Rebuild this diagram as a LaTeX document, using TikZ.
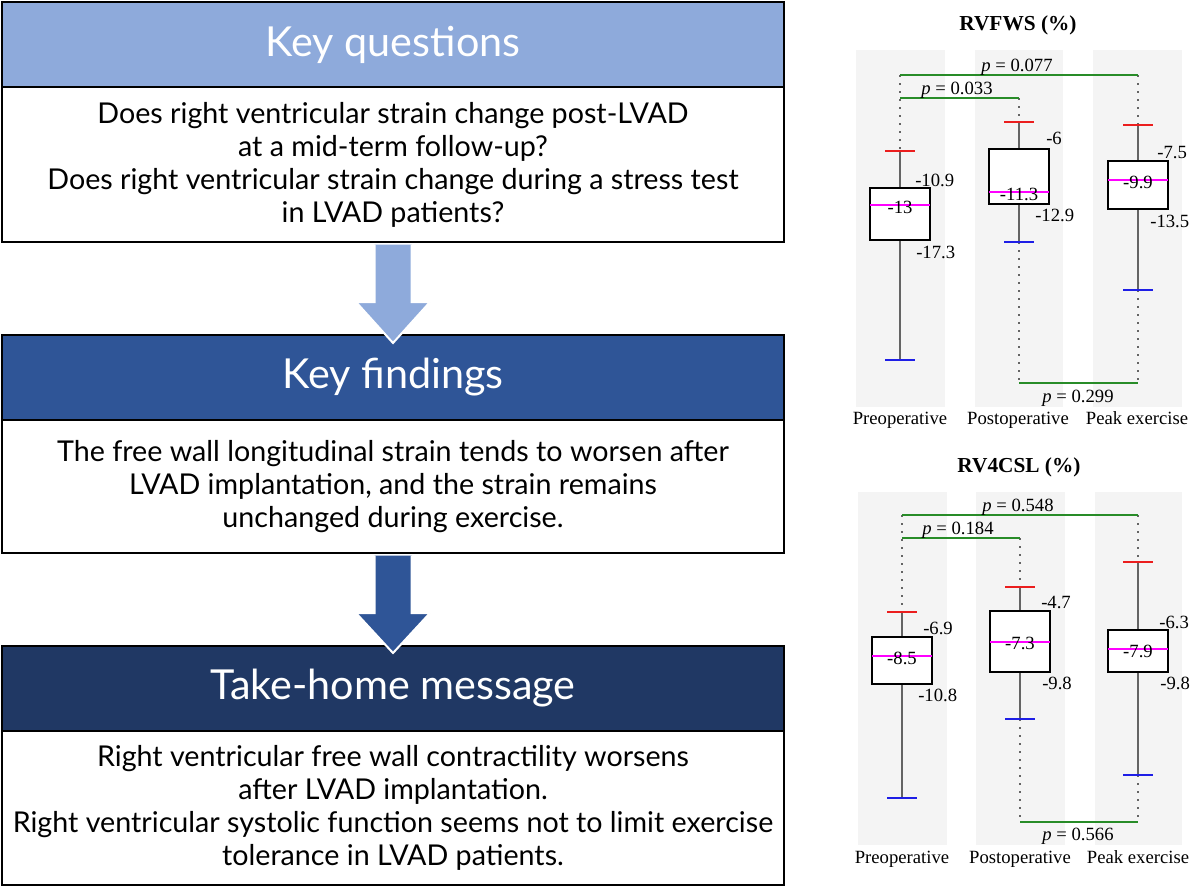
\documentclass[tikz,border=0pt]{standalone}
\usepackage{fontspec}
\setmainfont{Liberation Serif}
\newfontfamily\gill{Lato}
\usetikzlibrary{calc}
\definecolor{hdA}{RGB}{142,170,219}
\definecolor{hdB}{RGB}{47,85,151}
\definecolor{hdC}{RGB}{32,56,100}
\definecolor{colbg}{RGB}{244,244,244}
\definecolor{pgreen}{RGB}{40,140,40}
\definecolor{capred}{RGB}{235,30,30}
\definecolor{capblue}{RGB}{30,30,230}
\definecolor{medmag}{RGB}{255,0,255}
\definecolor{whiskgray}{RGB}{100,100,100}
\newcommand{\bxplot}[6]{%
  \draw[whisk] (#1,#2) -- (#1,#3);
  \draw[whisk] (#1,#5) -- (#1,#6);
  \draw[capr] (#1-15,#2) -- (#1+15,#2);
  \draw[capb] (#1-15,#6) -- (#1+15,#6);
  \draw[boxs] (#1-30,#3) rectangle (#1+30,#5);
  \draw[med] (#1-30,#4) -- (#1+30,#4);
}
\begin{document}
\begin{tikzpicture}[x=0.75pt,y=-0.75pt,
  header/.style={draw=black, line width=1.5pt, minimum width=782*0.75pt, inner sep=0pt, anchor=north west, text=white, font=\gill\fontsize{31}{34}\selectfont},
  body/.style={draw=black, line width=1.5pt, minimum width=782*0.75pt, inner sep=0pt, anchor=north west, align=center, fill=white, font=\gill\fontsize{21.5}{24.75}\selectfont},
  bigarrow/.style={draw=white, line width=1.5pt, line join=miter},
  whisk/.style={whiskgray, line width=0.9pt},
  capr/.style={capred, line width=1.5pt},
  capb/.style={capblue, line width=1.5pt},
  boxs/.style={black, line width=1.5pt, fill=white},
  med/.style={medmag, line width=1.2pt},
  dots/.style={whiskgray, line width=1.3pt, dash pattern=on 1.3pt off 4.7pt},
  pline/.style={pgreen, line width=1.5pt},
  colband/.style={fill=colbg, draw=none},
  num/.style={inner sep=0pt, font=\fontsize{14}{16}\selectfont, text depth=0pt},
  ptxt/.style={inner sep=0pt, font=\fontsize{14}{16}\selectfont, text depth=0pt},
  ctitle/.style={inner sep=0pt, font=\bfseries\fontsize{16}{18}\selectfont},
]
\useasboundingbox (0,0) rectangle (1191,886);
\fill[white] (0,0) rectangle (1191,886);

% ---------------- left panel ----------------
\node[header, fill=hdA, minimum height=85*0.75pt] (q-head) at (1,1) {Key questions};
\node[body, minimum height=155*0.75pt] (q-body) at (1,86) {Does right ventricular strain change post-LVAD\\at a mid-term follow-up?\\Does right ventricular strain change during a stress test\\in LVAD patients?};
\node[header, fill=hdB, minimum height=85*0.75pt] (f-head) at (1,334) {Key findings};
\node[body, minimum height=133*0.75pt] (f-body) at (1,419) {The free wall longitudinal strain tends to worsen after\\LVAD implantation, and the strain remains\\unchanged during exercise.};
\node[header, fill=hdC, minimum height=85*0.75pt] (m-head) at (1,645) {Take-home message};
\node[body, minimum height=154*0.75pt] (m-body) at (1,730) {Right ventricular free wall contractility worsens\\after LVAD implantation.\\Right ventricular systolic function seems not to limit exercise\\tolerance in LVAD patients.};

\path[bigarrow, fill=hdA] ($(q-body.south)+(-18.5,1.5)$) -- ++(0,57.5) -- ++(-18.5,0)
  -- ($(f-head.north)+(0,9)$) -- ($(q-body.south)+(37,59)$) -- ++(-18.5,0) -- ++(0,-57.5);
\path[bigarrow, fill=hdB] ($(f-body.south)+(-18.5,1.5)$) -- ++(0,57.5) -- ++(-18.5,0)
  -- ($(m-head.north)+(0,8)$) -- ($(f-body.south)+(37,59)$) -- ++(-18.5,0) -- ++(0,-57.5);

% ---------------- chart 1: RVFWS ----------------
\fill[colband] (856,50) rectangle (945,407);
\fill[colband] (975,50) rectangle (1063,407);
\fill[colband] (1093,50) rectangle (1182,407);
\node[ctitle] (t1) at (1018,25) {RVFWS (\%)};
\draw[dots] (900,75) -- (900,151);
\draw[dots] (1019,98) -- (1019,122);
\draw[dots] (1138,75) -- (1138,125);
\draw[dots] (1019,242) -- (1019,383);
\draw[dots] (1138,290) -- (1138,383);
\draw[pline] (900,75) -- (1138,75);
\draw[pline] (900,98) -- (1019,98);
\draw[pline] (1019,383) -- (1138,383);
\node[ptxt] (p1a) at (1017,65) {\textit{p} = 0.077};
\node[ptxt] (p1b) at (957,88) {\textit{p} = 0.033};
\node[ptxt] (p1c) at (1078,396) {\textit{p} = 0.299};
\bxplot{900}{151}{188}{205}{240}{360}
\bxplot{1019}{122}{149}{192}{204}{242}
\bxplot{1138}{125}{161}{180}{209}{290}
\node[num, anchor=west] (n11) at (915,180) {-10.9};
\node[num] (n12) at (900,207) {-13};
\node[num, anchor=west] (n13) at (916,252) {-17.3};
\node[num, anchor=west] (n21) at (1046,138) {-6};
\node[num] (n22) at (1019,194) {-11.3};
\node[num, anchor=west] (n23) at (1035,215) {-12.9};
\node[num, anchor=west] (n31) at (1157,152) {-7.5};
\node[num, anchor=west] (n33) at (1150,221) {-13.5};
\node[num] (n32) at (1138,182) {-9.9};
\node[num] (x11) at (900,418) {Preoperative};
\node[num] (x12) at (1018,418) {Postoperative};
\node[num] (x13) at (1137,418) {Peak exercise};

% ---------------- chart 2: RV4CSL ----------------
\fill[colband] (858,492) rectangle (947,845);
\fill[colband] (976,492) rectangle (1065,845);
\fill[colband] (1095,492) rectangle (1182,845);
\node[ctitle] (t2) at (1019,467) {RV4CSL (\%)};
\draw[dots] (902,515) -- (902,612);
\draw[dots] (1020,538) -- (1020,587);
\draw[dots] (1138,515) -- (1138,562);
\draw[dots] (1020,719) -- (1020,822);
\draw[dots] (1138,775) -- (1138,822);
\draw[pline] (902,515) -- (1138,515);
\draw[pline] (902,538) -- (1020,538);
\draw[pline] (1020,822) -- (1138,822);
\node[ptxt] (p2a) at (1018,505) {\textit{p} = 0.548};
\node[ptxt] (p2b) at (958,528) {\textit{p} = 0.184};
\node[ptxt] (p2c) at (1078,834) {\textit{p} = 0.566};
\bxplot{902}{612}{637}{656}{684}{798}
\bxplot{1020}{587}{611}{642}{672}{719}
\bxplot{1138}{562}{630}{649}{672}{775}
\node[num, anchor=west] (m11) at (923,628) {-6.9};
\node[num] (m12) at (902,658) {-8.5};
\node[num, anchor=west] (m13) at (918,695) {-10.8};
\node[num, anchor=west] (m21) at (1041,602) {-4.7};
\node[num] (m22) at (1020,643) {-7.3};
\node[num, anchor=west] (m23) at (1042,683) {-9.8};
\node[num, anchor=west] (m31) at (1159,622) {-6.3};
\node[num] (m32) at (1138,651) {-7.9};
\node[num, anchor=west] (m33) at (1160,683) {-9.8};
\node[num] (x21) at (902,857) {Preoperative};
\node[num] (x22) at (1020,857) {Postoperative};
\node[num] (x23) at (1138,857) {Peak exercise};
\end{tikzpicture}
\end{document}
